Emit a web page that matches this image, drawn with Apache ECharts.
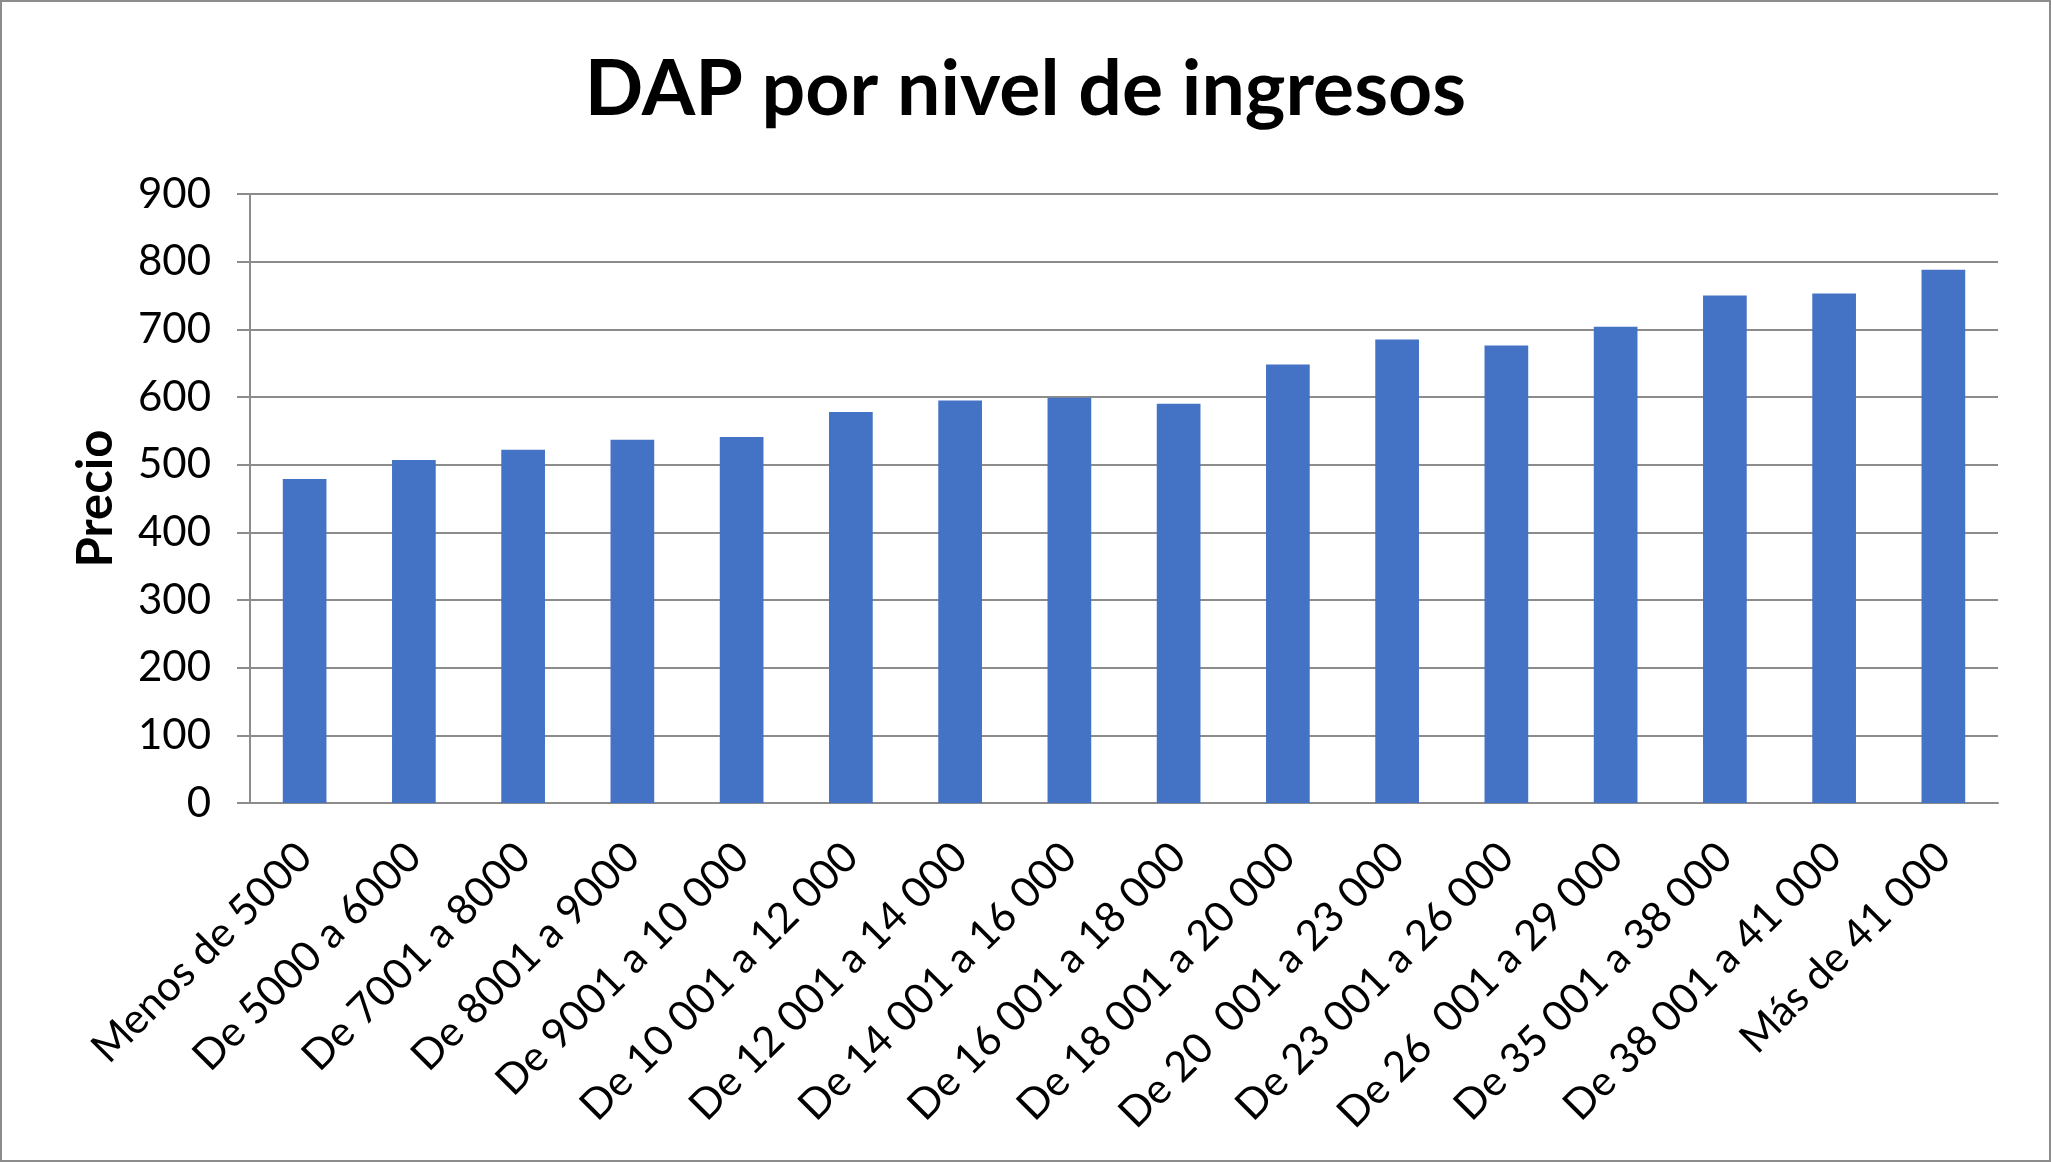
<!DOCTYPE html>
<html>
<head>
<meta charset="utf-8">
<script src="https://cdn.jsdelivr.net/npm/echarts@6/dist/echarts.min.js"></script>
<style>
html,body{margin:0;padding:0;background:#fff;}
#chart{width:2051px;height:1162px;}
</style>
</head>
<body>
<div id="chart"></div>
<script>
const categories = [
  "Menos de 5000", "De 5000 a 6000", "De 7001 a 8000", "De 8001 a 9000",
  "De 9001 a 10 000", "De 10 001 a 12 000", "De 12 001 a 14 000", "De 14 001 a 16 000",
  "De 16 001 a 18 000", "De 18 001 a 20 000", "De 20  001 a 23 000", "De 23 001 a 26 000",
  "De 26  001 a 29 000", "De 35 001 a 38 000", "De 38 001 a 41 000", "Más de 41 000"
];
const precio = [479, 507, 522, 537, 541, 578, 595, 599, 590, 648, 685, 676, 704, 750, 753, 788];
const titleText = "DAP por nivel de ingresos";
const yAxisName = "Precio";

const FONT = "Lato";
const chart = echarts.init(document.getElementById('chart'), null, {renderer: 'canvas'});
chart.setOption({
  backgroundColor: '#ffffff',
  animation: false,
  title: {
    text: titleText,
    left: 'center',
    top: 47,
    textStyle: {fontFamily: FONT, fontWeight: 'bold', fontSize: 77, color: '#000'}
  },
  graphic: [{
    type: 'rect',
    shape: {x: 1, y: 1, width: 2049, height: 1160},
    style: {fill: 'none', stroke: '#8c8c8c', lineWidth: 2},
    silent: true
  }],
  grid: {left: 250, right: 53, top: 194, bottom: 359, containLabel: false},
  xAxis: {
    type: 'category',
    data: categories,
    axisLine: {show: true, lineStyle: {color: '#8c8c8c', width: 2}},
    axisTick: {show: false},
    axisLabel: {
      rotate: 45, interval: 0, margin: 47,
      fontFamily: FONT, fontSize: 42, color: '#000'
    }
  },
  yAxis: {
    type: 'value',
    min: 0, max: 900, interval: 100,
    name: yAxisName,
    nameLocation: 'middle',
    nameGap: 129,
    nameTextStyle: {fontFamily: FONT, fontWeight: 'bold', fontSize: 49, color: '#000'},
    axisLine: {show: true, lineStyle: {color: '#8c8c8c', width: 2}},
    axisTick: {show: true, inside: false, length: 13, lineStyle: {color: '#8c8c8c', width: 2}},
    splitLine: {show: true, lineStyle: {color: '#8c8c8c', width: 2}},
    axisLabel: {margin: 39, fontFamily: FONT, fontSize: 42, color: '#000'}
  },
  series: [{
    type: 'bar',
    data: precio,
    barWidth: '40%',
    itemStyle: {color: '#4472C4'}
  }]
});
</script>
</body>
</html>
